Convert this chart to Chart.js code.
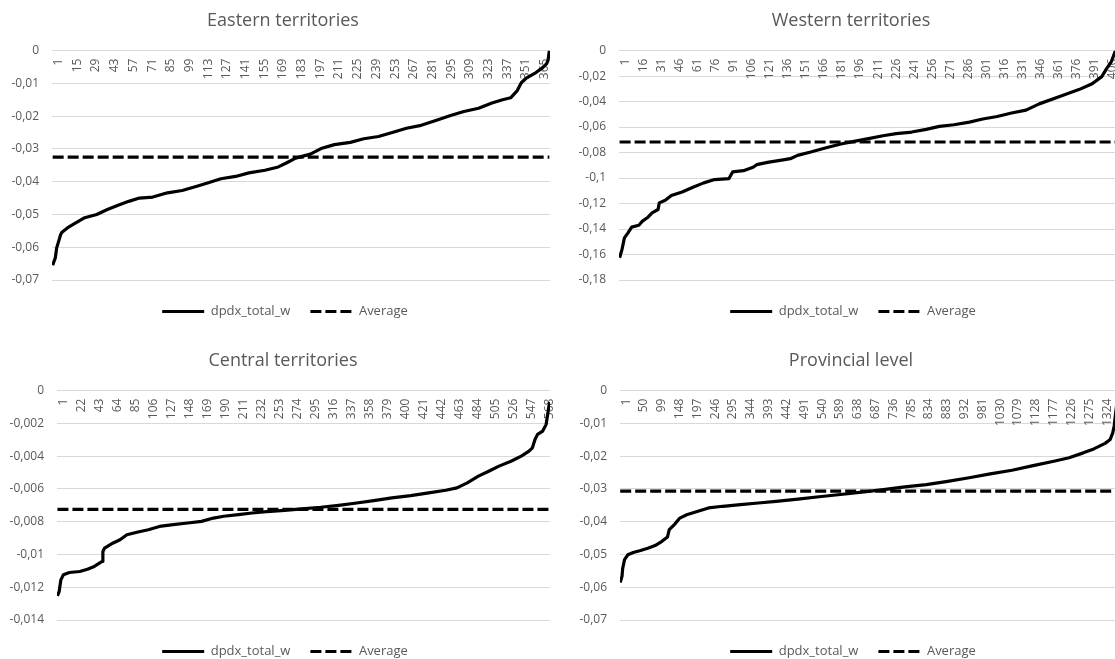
<!DOCTYPE html>
<html>
<head>
<meta charset="utf-8">
<title>dpdx_total_w by territory</title>
<script src="https://cdn.jsdelivr.net/npm/chart.js@4.4.1/dist/chart.umd.min.js"></script>
<style>
  html, body { margin: 0; padding: 0; background: #ffffff; }
  body { width: 1115px; height: 659px; overflow: hidden; position: relative; }
  .panel { position: absolute; width: 557px; height: 340px; }
</style>
</head>
<body>
<div class="panel" style="left:0;top:0"><canvas id="east" width="557" height="340"></canvas></div>
<div class="panel" style="left:568px;top:0"><canvas id="west" width="557" height="340"></canvas></div>
<div class="panel" style="left:0;top:340px"><canvas id="central" width="557" height="340"></canvas></div>
<div class="panel" style="left:568px;top:340px"><canvas id="prov" width="557" height="340"></canvas></div>
<script>
// Eastern territories: rank of each observation and its value (sorted ascending)
const eastCount = 373;
const eastRank = [1,3,4,7,8,12,17,25,34,42,50,58,66,76,87,98,109,117,127,138,148,160,170,176,183,194,202,212,224,234,245,256,266,277,288,299,309,320,330,338,344,349,352,356,363,368,371,372,373];
const eastValue = [-0.0655,-0.0632,-0.0602,-0.0561,-0.0554,-0.0541,-0.0529,-0.0510,-0.0500,-0.0485,-0.0472,-0.0460,-0.0450,-0.0447,-0.0434,-0.0427,-0.0414,-0.0404,-0.0391,-0.0384,-0.0373,-0.0365,-0.0355,-0.0343,-0.0328,-0.0316,-0.0299,-0.0287,-0.0280,-0.0269,-0.0262,-0.0249,-0.0237,-0.0228,-0.0213,-0.0198,-0.0186,-0.0176,-0.0160,-0.0150,-0.0144,-0.0122,-0.0098,-0.0083,-0.0067,-0.0052,-0.0040,-0.0030,0];
const eastAverage = -0.0325;
const eastXTicks = [1,15,29,43,57,71,85,99,113,127,141,155,169,183,197,211,225,239,253,267,281,295,309,323,337,351,365];
const eastYTicks = [0,-0.01,-0.02,-0.03,-0.04,-0.05,-0.06,-0.07];

// Western territories
const westCount = 415;
const westRank = [1,3,5,8,11,17,20,24,28,33,34,39,44,53,62,71,80,92,93,95,104,112,115,124,137,143,149,160,172,185,196,208,220,231,244,256,267,279,292,303,315,327,339,350,367,383,394,402,406,410,413,415];
const westValue = [-0.1625,-0.156,-0.1469,-0.143,-0.1385,-0.137,-0.1338,-0.1312,-0.1273,-0.1247,-0.1195,-0.1174,-0.1137,-0.1109,-0.1072,-0.1038,-0.1012,-0.1004,-0.0986,-0.0952,-0.0942,-0.0916,-0.0895,-0.0877,-0.0858,-0.0848,-0.0822,-0.0796,-0.0764,-0.0733,-0.0712,-0.0691,-0.0668,-0.0652,-0.0639,-0.0618,-0.0595,-0.0582,-0.0561,-0.0537,-0.0517,-0.049,-0.0467,-0.0418,-0.036,-0.0306,-0.026,-0.0204,-0.0141,-0.0086,-0.001,0];
const westAverage = -0.0717;
const westXTicks = [1,16,31,46,61,76,91,106,121,136,151,166,181,196,211,226,241,256,271,286,301,316,331,346,361,376,391,406];
const westYTicks = [0,-0.02,-0.04,-0.06,-0.08,-0.1,-0.12,-0.14,-0.16,-0.18];

// Central territories
const centralCount = 575;
const centralRank = [1,3,5,8,15,27,36,44,50,53,54,56,66,74,82,95,107,120,136,153,169,183,195,212,228,245,266,286,308,329,350,370,391,413,434,454,467,479,492,504,516,530,542,551,555,558,561,567,571,575];
const centralValue = [-0.01253,-0.01227,-0.01155,-0.01124,-0.0111,-0.01104,-0.0109,-0.01073,-0.01053,-0.01043,-0.00982,-0.00961,-0.0093,-0.0091,-0.0088,-0.00863,-0.00849,-0.00829,-0.00818,-0.00808,-0.00798,-0.00778,-0.00767,-0.00757,-0.00747,-0.00739,-0.00731,-0.00722,-0.00712,-0.007,-0.00686,-0.00671,-0.00655,-0.00641,-0.00624,-0.00608,-0.00594,-0.00563,-0.00522,-0.00492,-0.00461,-0.00431,-0.004,-0.00369,-0.00349,-0.00298,-0.00267,-0.00247,-0.00206,-0.0007];
const centralAverage = -0.00725;
const centralXTicks = [1,22,43,64,85,106,127,148,169,190,211,232,253,274,295,316,337,358,379,400,421,442,463,484,505,526,547,568];
const centralYTicks = [0,-0.002,-0.004,-0.006,-0.008,-0.01,-0.012,-0.014];

// Provincial level
const provCount = 1370;
const provRank = [1,6,8,13,22,37,57,77,97,116,131,136,150,165,184,215,244,283,332,381,430,490,548,607,666,725,784,843,902,961,1019,1079,1137,1197,1236,1275,1304,1335,1349,1356,1360,1365,1370];
const provValue = [-0.0586,-0.0567,-0.0542,-0.0516,-0.0501,-0.0494,-0.0488,-0.0481,-0.0473,-0.046,-0.0447,-0.0424,-0.0409,-0.0389,-0.0379,-0.0368,-0.0358,-0.0353,-0.0348,-0.0343,-0.0338,-0.0331,-0.0324,-0.0317,-0.031,-0.0302,-0.0294,-0.0287,-0.0277,-0.0266,-0.0254,-0.0243,-0.0229,-0.0215,-0.0205,-0.019,-0.0178,-0.0161,-0.0149,-0.0129,-0.0108,-0.006,-0.002];
const provAverage = -0.0307;
const provXTicks = [1,50,99,148,197,246,295,344,393,442,491,540,589,638,687,736,785,834,883,932,981,1030,1079,1128,1177,1226,1275,1324];
const provYTicks = [0,-0.01,-0.02,-0.03,-0.04,-0.05,-0.06,-0.07];

const TEXT = '#595959';
const GRID = '#d9d9d9';
Chart.defaults.font.family = '"Open Sans", "Noto Sans", sans-serif';
Chart.defaults.color = TEXT;

// Decimal comma, as in the source workbook
function decimalComma(v) { return String(v).replace('.', ','); }

// Legend entries drawn as short line samples carrying each series' dash pattern
function lineLegendItems(chart) {
  return Chart.defaults.plugins.legend.labels.generateLabels(chart).map(item => {
    const ds = chart.data.datasets[item.datasetIndex];
    return Object.assign(item, {
      pointStyle: 'line', lineDash: ds.borderDash || [], lineWidth: 3.2,
      strokeStyle: '#000', fillStyle: '#000', lineCap: 'butt'
    });
  });
}

// Centre the title and legend over the whole chart frame rather than the
// space left of the right padding, and drop the legend a little.
const frameCentering = {
  id: 'frameCentering',
  afterLayout(chart, args, opts) {
    const t = chart.titleBlock;
    if (t) { t.left += opts.titleDx; t.right += opts.titleDx; }
    const l = chart.legend;
    if (l) { l.left += opts.legendDx; l.right += opts.legendDx; l.top += opts.legendDy; l.bottom += opts.legendDy; }
  }
};

function drawPanel(id, title, count, ranks, values, average, xTicks, yTicks, axisWidth) {
  const series = ranks.map((r, i) => ({ x: r, y: values[i] }));
  const yMin = Math.min.apply(null, yTicks);
  return new Chart(document.getElementById(id), {
    type: 'line',
    plugins: [frameCentering],
    data: {
      datasets: [
        { label: 'dpdx_total_w', data: series, borderColor: '#000', backgroundColor: '#000',
          borderWidth: 3.2, pointRadius: 0, tension: 0, borderJoinStyle: 'round' },
        { label: 'Average', data: [{ x: 1, y: average }, { x: count, y: average }],
          borderColor: '#000', backgroundColor: '#000', borderWidth: 3.2, borderDash: [11, 4], pointRadius: 0 }
      ]
    },
    options: {
      responsive: false,
      animation: false,
      devicePixelRatio: 1,
      layout: { padding: { left: 0, right: 7, top: 0, bottom: 17 } },
      plugins: {
        frameCentering: { titleDx: 8, legendDx: 10, legendDy: 5 },
        title: { display: true, text: title, color: TEXT,
                 font: { size: 18, weight: 'normal' }, padding: { top: 10, bottom: 19 } },
        legend: { position: 'bottom',
                  labels: { usePointStyle: true, pointStyle: 'line', pointStyleWidth: 42, boxHeight: 12,
                            padding: 20, color: TEXT, font: { size: 13 }, generateLabels: lineLegendItems } },
        tooltip: { enabled: false }
      },
      scales: {
        x: {
          type: 'linear', position: { y: 0 }, min: 0.5, max: count + 0.5,
          afterBuildTicks: s => { s.ticks = xTicks.map(v => ({ value: v })); },
          afterFit: s => { s.paddingLeft = 0; s.paddingRight = 0; },
          ticks: { autoSkip: false, minRotation: 90, maxRotation: 90, padding: 0, labelOffset: 6,
                   color: TEXT, font: { size: 12 }, callback: v => String(v) },
          grid: { display: false },
          border: { display: false }
        },
        y: {
          type: 'linear', min: yMin, max: 0,
          afterBuildTicks: s => { s.ticks = yTicks.slice().reverse().map(v => ({ value: v })); },
          afterFit: s => { s.width = axisWidth; },
          ticks: { padding: 13, color: TEXT, font: { size: 12 }, callback: decimalComma },
          grid: { color: GRID, lineWidth: 1, drawTicks: false },
          border: { display: false }
        }
      }
    }
  });
}

drawPanel('east', 'Eastern territories', eastCount, eastRank, eastValue, eastAverage, eastXTicks, eastYTicks, 52);
drawPanel('west', 'Western territories', westCount, westRank, westValue, westAverage, westXTicks, westYTicks, 51);
drawPanel('central', 'Central territories', centralCount, centralRank, centralValue, centralAverage, centralXTicks, centralYTicks, 57);
drawPanel('prov', 'Provincial level', provCount, provRank, provValue, provAverage, provXTicks, provYTicks, 52);
</script>
</body>
</html>
